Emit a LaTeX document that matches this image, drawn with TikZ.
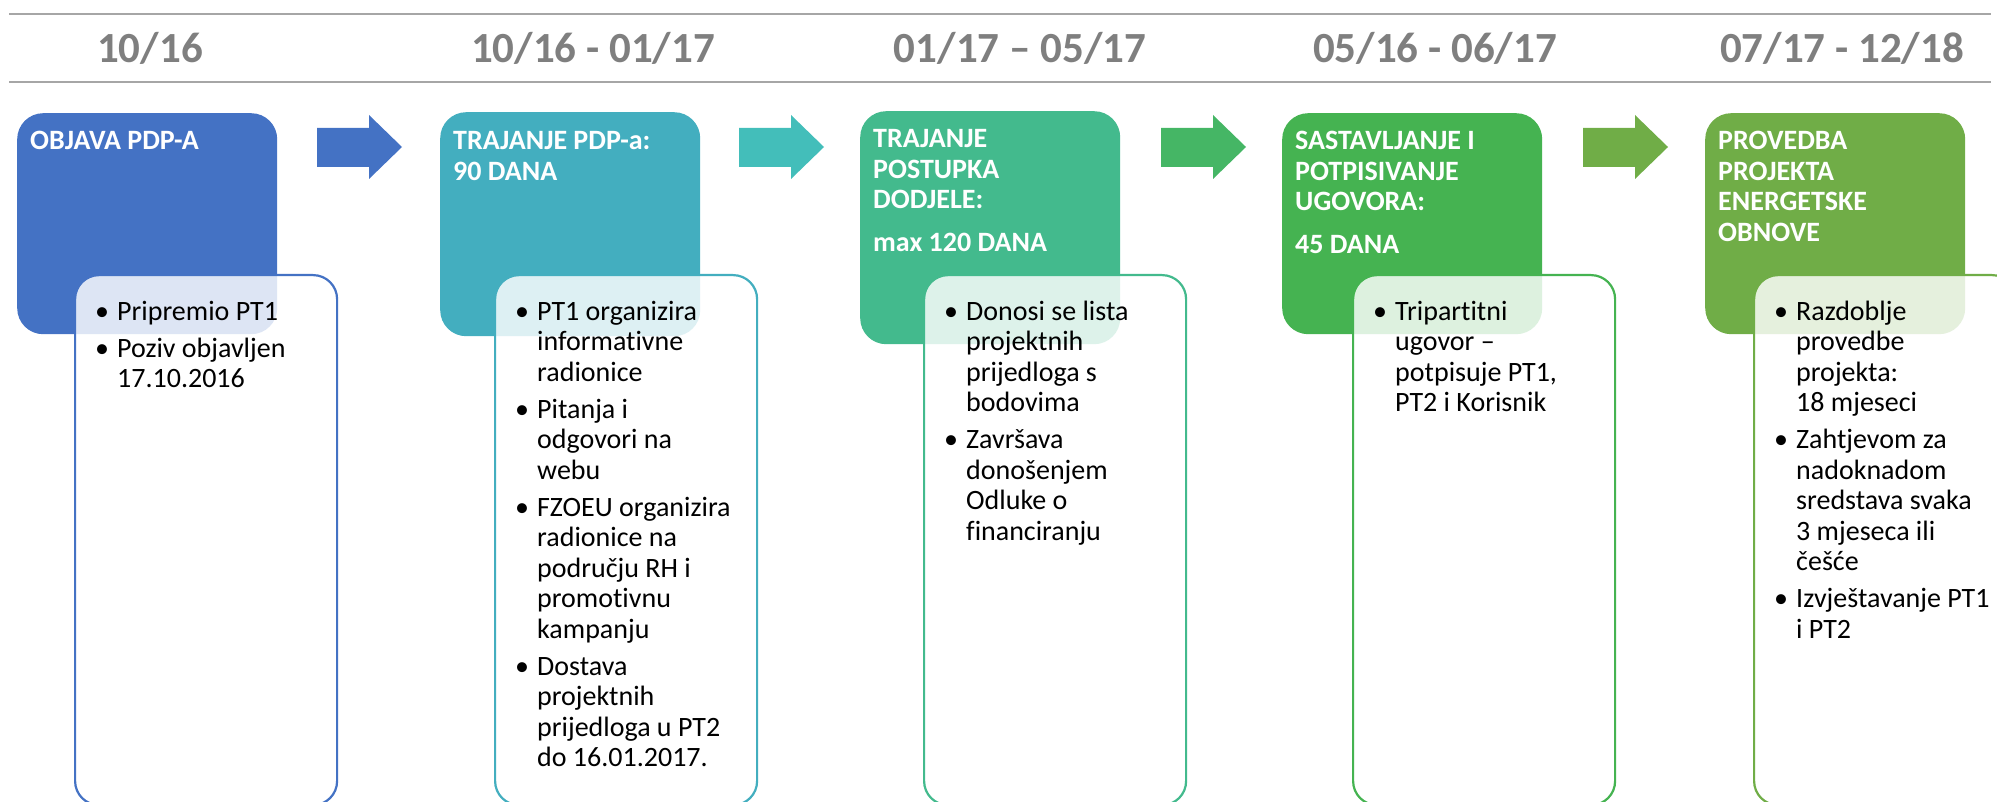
\documentclass[tikz,border=0pt]{standalone}
\usepackage{fontspec}
\setmainfont{Carlito}[Ligatures=NoCommon]
\definecolor{cA}{HTML}{4472C4}
\definecolor{cB}{HTML}{43AEBF}
\definecolor{cC}{HTML}{43BA8D}
\definecolor{cD}{HTML}{45B351}
\definecolor{cE}{HTML}{70AD47}
\definecolor{aA}{HTML}{4472C4}
\definecolor{aB}{HTML}{43BEBA}
\definecolor{aC}{HTML}{45B665}
\definecolor{aD}{HTML}{70AD47}
\definecolor{dategray}{HTML}{7F7F7F}
\definecolor{rulegray}{HTML}{A6A6A6}
\newcommand{\bl}{\makebox[22pt][l]{•}}
\newcommand{\igap}{\\[6.5pt]}
\begin{document}
\begin{tikzpicture}[x=1pt,y=-1pt,
  cbox/.style={fill=#1, draw=none, rounded corners=26pt, anchor=north west,
    minimum width=260pt, inner sep=0pt},
  wbox/.style={draw=#1, line width=2.2pt, fill=white, fill opacity=0.82,
    rounded corners=24pt, anchor=north west, minimum width=262pt,
    minimum height=530pt, inner sep=0pt},
  hdr/.style={anchor=base west, inner sep=0pt, text=white,
    font=\fontsize{28}{30.5}\selectfont\bfseries},
  body/.style={anchor=base west, inner sep=0pt, text=black,
    font=\fontsize{28}{30.5}\selectfont},
  datelbl/.style={anchor=base, inner sep=0pt, text=dategray,
    font=\fontsize{43}{50}\selectfont\bfseries},
  rule/.style={draw=rulegray, line width=1.8pt},
  blockarrow/.style={fill=#1, draw=none}
]
\useasboundingbox (0,0) rectangle (1997,802);
\clip (0,0) rectangle (1997,802);

% header rules
\coordinate (r1a) at (9,14);  \coordinate (r1b) at (1991,14);
\coordinate (r2a) at (9,82);  \coordinate (r2b) at (1991,82);
\draw[rule] (r1a) -- (r1b);
\draw[rule] (r2a) -- (r2b);

% dates
\node[datelbl] (d1) at (150,63) {10/16};
\node[datelbl] (d2) at (593,63) {10/16 - 01/17};
\node[datelbl] (d3) at (1020,63) {01/17 – 05/17};
\node[datelbl] (d4) at (1435,63) {05/16 - 06/17};
\node[datelbl] (d5) at (1842,63) {07/17 - 12/18};

% block arrows
\fill[blockarrow=aA] (317,128) -- (369,128) -- (369,115) -- (402,147) -- (369,179) -- (369,167) -- (317,167) -- cycle;
\fill[blockarrow=aB] (739,128) -- (791,128) -- (791,115) -- (824,147) -- (791,179) -- (791,167) -- (739,167) -- cycle;
\fill[blockarrow=aC] (1161,128) -- (1213,128) -- (1213,115) -- (1246,147) -- (1213,179) -- (1213,167) -- (1161,167) -- cycle;
\fill[blockarrow=aD] (1583,128) -- (1635,128) -- (1635,115) -- (1668,147) -- (1635,179) -- (1635,167) -- (1583,167) -- cycle;

% stage 1
\node[cbox=cA, minimum height=221pt] (b1) at (17,113) {};
\node[wbox=cA] (w1) at (74,274) {};
\node[hdr] (h1) at ([xshift=13pt,yshift=-37pt]b1.north west)
  {\begin{tabular}[t]{@{}l@{}}OBJAVA PDP-A\end{tabular}};
\node[body] (t1) at ([xshift=21pt,yshift=-46pt]w1.north west)
  {\begin{tabular}[t]{@{}l@{}l@{}}
  \bl & Pripremio PT1\igap
  \bl & Poziv objavljen\\
      & 17.10.2016
  \end{tabular}};

% stage 2
\node[cbox=cB, minimum height=224pt] (b2) at (440,112) {};
\node[wbox=cB] (w2) at (494,274) {};
\node[hdr] (h2) at ([xshift=13pt,yshift=-38pt]b2.north west)
  {\begin{tabular}[t]{@{}l@{}}TRAJANJE PDP-a:\\ 90 DANA\end{tabular}};
\node[body] (t2) at ([xshift=21pt,yshift=-46pt]w2.north west)
  {\begin{tabular}[t]{@{}l@{}l@{}}
  \bl & PT1 organizira\\
      & informativne\\
      & radionice\igap
  \bl & Pitanja i\\
      & odgovori na\\
      & webu\igap
  \bl & FZOEU organizira\\
      & radionice na\\
      & području RH i\\
      & promotivnu\\
      & kampanju\igap
  \bl & Dostava\\
      & projektnih\\
      & prijedloga u PT2\\
      & do 16.01.2017.
  \end{tabular}};

% stage 3
\node[cbox=cC, minimum height=233pt] (b3) at (860,111) {};
\node[wbox=cC] (w3) at (923,274) {};
\node[hdr] (h3) at ([xshift=13pt,yshift=-37pt]b3.north west)
  {\begin{tabular}[t]{@{}l@{}}TRAJANJE\\ POSTUPKA\\ DODJELE:\\[12.5pt] max 120 DANA\end{tabular}};
\node[body] (t3) at ([xshift=21pt,yshift=-46pt]w3.north west)
  {\begin{tabular}[t]{@{}l@{}l@{}}
  \bl & Donosi se lista\\
      & projektnih\\
      & prijedloga s\\
      & bodovima\igap
  \bl & Završava\\
      & donošenjem\\
      & Odluke o\\
      & financiranju
  \end{tabular}};

% stage 4
\node[cbox=cD, minimum height=221pt] (b4) at (1282,113) {};
\node[wbox=cD] (w4) at (1352,274) {};
\node[hdr] (h4) at ([xshift=13pt,yshift=-37pt]b4.north west)
  {\begin{tabular}[t]{@{}l@{}}SASTAVLJANJE I\\ POTPISIVANJE\\ UGOVORA:\\[12.5pt] 45 DANA\end{tabular}};
\node[body] (t4) at ([xshift=21pt,yshift=-46pt]w4.north west)
  {\begin{tabular}[t]{@{}l@{}l@{}}
  \bl & Tripartitni\\
      & ugovor –\\
      & potpisuje PT1,\\
      & PT2 i Korisnik
  \end{tabular}};

% stage 5
\node[cbox=cE, minimum height=221pt] (b5) at (1705,113) {};
\node[wbox=cE] (w5) at (1753,274) {};
\node[hdr] (h5) at ([xshift=13pt,yshift=-37pt]b5.north west)
  {\begin{tabular}[t]{@{}l@{}}PROVEDBA\\ PROJEKTA\\ ENERGETSKE\\ OBNOVE\end{tabular}};
\node[body] (t5) at ([xshift=21pt,yshift=-46pt]w5.north west)
  {\begin{tabular}[t]{@{}l@{}l@{}}
  \bl & Razdoblje\\
      & provedbe\\
      & projekta:\\
      & 18 mjeseci\igap
  \bl & Zahtjevom za\\
      & nadoknadom\\
      & sredstava svaka\\
      & 3 mjeseca ili\\
      & češće\igap
  \bl & Izvještavanje PT1\\
      & i PT2
  \end{tabular}};
\end{tikzpicture}
\end{document}
